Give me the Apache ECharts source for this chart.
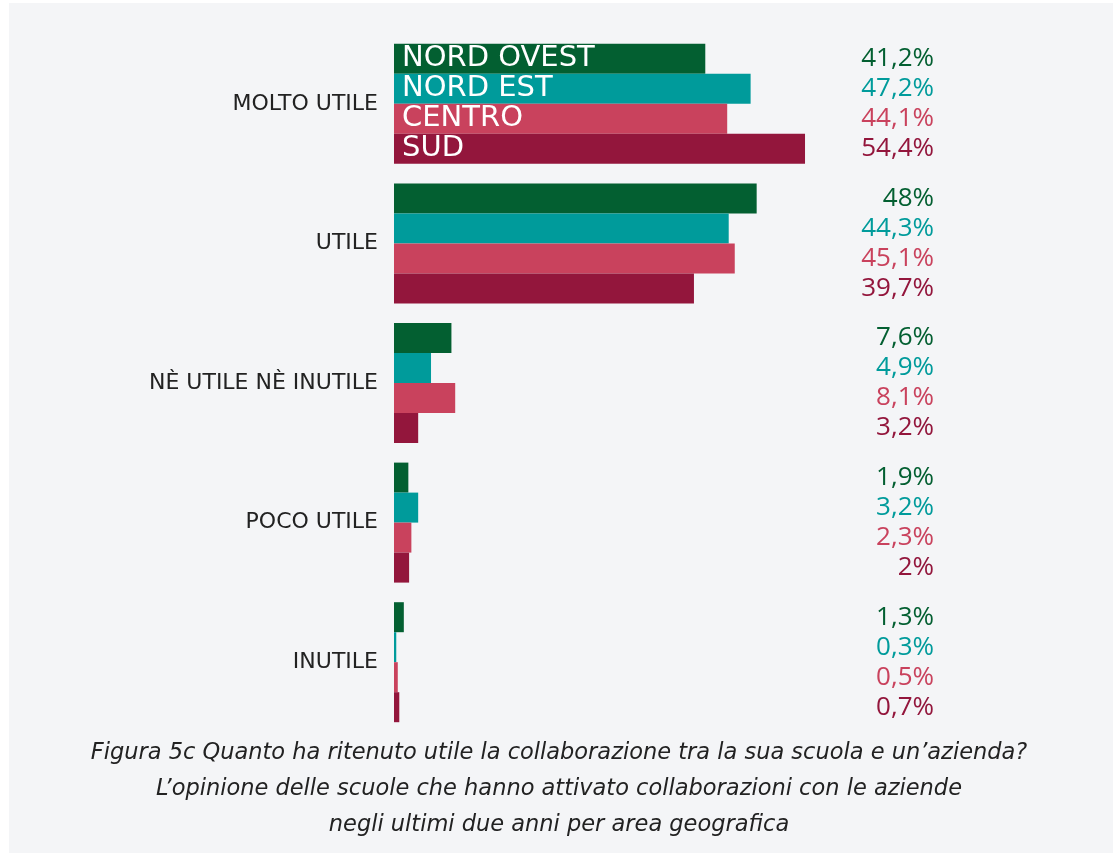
<!DOCTYPE html>
<html>
<head>
<meta charset="utf-8">
<script src="https://cdn.jsdelivr.net/npm/echarts@6/dist/echarts.min.js"></script>
<style>
html,body{margin:0;padding:0;background:#ffffff;}
#chart{width:1119px;height:854px;}
</style>
</head>
<body>
<div id="chart"></div>
<script>
const categories = ['MOLTO UTILE', 'UTILE', 'NÈ UTILE NÈ INUTILE', 'POCO UTILE', 'INUTILE'];
const seriesNames = ['NORD OVEST', 'NORD EST', 'CENTRO', 'SUD'];
const nordOvest = [41.2, 48, 7.6, 1.9, 1.3];
const nordEst = [47.2, 44.3, 4.9, 3.2, 0.3];
const centro = [44.1, 45.1, 8.1, 2.3, 0.5];
const sud = [54.4, 39.7, 3.2, 2, 0.7];
const colors = ['#035f31', '#009b9b', '#c9425d', '#93163c'];
const captionLines = [
  'Figura 5c Quanto ha ritenuto utile la collaborazione tra la sua scuola e un’azienda?',
  'L’opinione delle scuole che hanno attivato collaborazioni con le aziende',
  'negli ultimi due anni per area geografica'
];

const allData = [nordOvest, nordEst, centro, sud];
const fmt = v => String(v).replace('.', ',') + '%';
const FONT = '"Open Sans", "Noto Sans", sans-serif';
const WIDE = '"DejaVu Sans", "Noto Sans", sans-serif';

const chart = echarts.init(document.getElementById('chart'), null, {renderer: 'canvas'});
chart.setOption({
  backgroundColor: '#ffffff',
  animation: false,
  graphic: [{
    type: 'rect', z: -10, silent: true,
    shape: {x: 9, y: 3, width: 1104, height: 850},
    style: {fill: '#f4f5f7'}
  }, {
    type: 'text', silent: true,
    x: 559, y: 789,
    style: {
      text: captionLines.join('\n'),
      font: 'italic 22.5px "DejaVu Sans", sans-serif',
      fill: '#222222',
      align: 'center',
      verticalAlign: 'middle',
      lineHeight: 36
    }
  }],
  legend: {
    data: seriesNames,
    orient: 'vertical',
    left: 397,
    top: 43,
    padding: 0,
    itemGap: 0,
    itemWidth: 0,
    itemHeight: 30,
    z: 10,
    selectedMode: false,
    itemStyle: {opacity: 0},
    textStyle: {fontFamily: WIDE, fontSize: 29, color: '#ffffff', lineHeight: 30}
  },
  grid: {left: 394, top: 34, width: 680, height: 698},
  xAxis: {type: 'value', min: 0, max: 90, show: false},
  yAxis: {
    type: 'category',
    data: categories,
    inverse: true,
    axisLine: {show: false},
    axisTick: {show: false},
    axisLabel: {fontFamily: WIDE, fontSize: 22, color: '#222222', margin: 16, padding: [6, 0, 0, 0]}
  },
  series: allData.map((d, i) => ({
    name: seriesNames[i],
    type: 'bar',
    data: d,
    barWidth: 30,
    barGap: '0%',
    itemStyle: {color: colors[i]},
    label: {
      show: true,
      position: 'right',
      fontFamily: FONT,
      fontSize: 26,
      color: colors[i],
      formatter: p => fmt(p.value)
    },
    labelLayout: {x: 934, align: 'right', verticalAlign: 'middle'}
  }))
});
</script>
</body>
</html>
